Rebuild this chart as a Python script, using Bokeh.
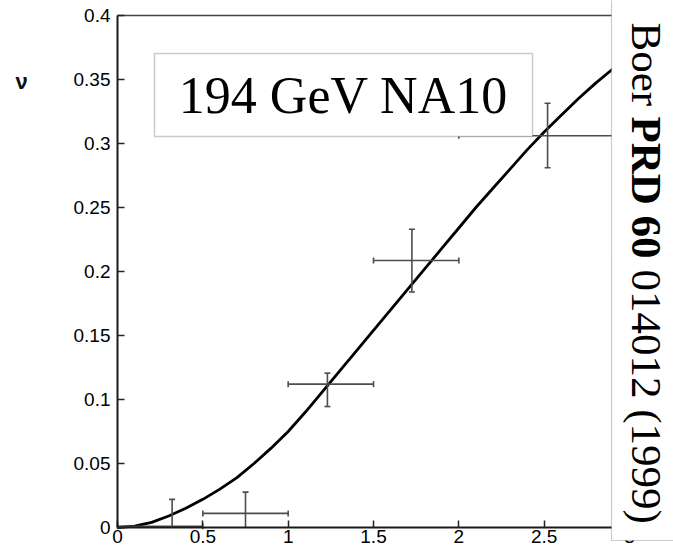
import math

from bokeh.plotting import figure
from bokeh.models import Label, BoxAnnotation, FixedTicker, ColumnDataSource
from bokeh.embed import file_html
from bokeh.resources import INLINE

# Model curve for the cos(2 phi) asymmetry nu versus q_T
curve_qt = [0.0, 0.1, 0.2, 0.3, 0.4, 0.5, 0.6, 0.7, 0.8, 0.9, 1.0,
            1.1, 1.2, 1.3, 1.4, 1.5, 1.6, 1.7, 1.8, 1.9, 2.0,
            2.1, 2.2, 2.3, 2.4, 2.5, 2.6, 2.7, 2.8, 2.9, 3.0]
curve_nu = [0.0, 0.001, 0.004, 0.009, 0.015, 0.022, 0.030, 0.039, 0.050, 0.062, 0.075,
            0.090, 0.106, 0.122, 0.138, 0.154, 0.170, 0.186, 0.202, 0.218, 0.234,
            0.250, 0.265, 0.280, 0.295, 0.309, 0.322, 0.335, 0.347, 0.358, 0.368]

# NA10 data points (194 GeV)
qt_mean = [0.32, 0.75, 1.23, 1.725, 2.52]
qt_bin_lo = [0.0, 0.5, 1.0, 1.5, 2.0]
qt_bin_hi = [0.5, 1.0, 1.5, 2.0, 3.0]
nu_data = [0.001, 0.011, 0.112, 0.2086, 0.306]
nu_err_up = [0.021, 0.0166, 0.0086, 0.0244, 0.0255]
nu_err_down = [0.021, 0.0166, 0.0175, 0.0246, 0.025]

x_ticks = [0, 0.5, 1, 1.5, 2, 2.5, 3]
x_tick_labels = ["0", "0.5", "1", "1.5", "2", "2.5", "3"]
y_ticks = [0, 0.05, 0.1, 0.15, 0.2, 0.25, 0.3, 0.35, 0.4]
y_tick_labels = ["0", "0.05", "0.1", "0.15", "0.2", "0.25", "0.3", "0.35", "0.4"]

X_MIN, X_MAX = 0.0, 3.0
Y_MIN, Y_MAX = 0.0, 0.4

W, H = 673, 548
# pixel box of the axes region inside the canvas
AX_L, AX_R, AX_T, AX_B = 117, 629, 15, 527


def dx(px):
    """canvas pixel column -> data x"""
    return X_MIN + (px - AX_L) / (AX_R - AX_L) * (X_MAX - X_MIN)


def dy(py):
    """canvas pixel row -> data y"""
    return Y_MIN + (AX_B - py) / (AX_B - AX_T) * (Y_MAX - Y_MIN)


# the frame spans the whole canvas; the axes are pinned at x=0 and y=0
p = figure(width=W, height=H, x_range=(dx(0), dx(W)), y_range=(dy(H), dy(0)),
           output_backend="svg", toolbar_location=None, min_border=0,
           min_border_left=0, min_border_right=0, min_border_top=0, min_border_bottom=0)
p.background_fill_color = "white"
p.border_fill_color = "white"
p.grid.visible = False
p.outline_line_color = None

xaxis, yaxis = p.xaxis[0], p.yaxis[0]
xaxis.fixed_location = Y_MIN
yaxis.fixed_location = X_MIN
xaxis.bounds = (X_MIN, X_MAX)
yaxis.bounds = (Y_MIN, Y_MAX)
for ax, ticks, labels in ((xaxis, x_ticks, x_tick_labels),
                          (yaxis, y_ticks, y_tick_labels)):
    ax.ticker = FixedTicker(ticks=ticks)
    ax.major_label_overrides = {t: l for t, l in zip(ticks, labels)}
    ax.axis_line_color = "#1a1a1a"
    ax.axis_line_width = 2
    ax.major_tick_line_color = "#222222"
    ax.major_tick_line_width = 1.5
    ax.major_tick_in = 7
    ax.major_tick_out = 0
    ax.minor_tick_line_color = None
    ax.major_label_text_font = "Liberation Sans"
    ax.major_label_text_font_size = "19px"
    ax.major_label_text_color = "black"
yaxis.major_label_standoff = 7
xaxis.major_label_standoff = 2

# top and right edges of the axes box
p.segment(x0=[X_MIN, X_MAX], y0=[Y_MAX, Y_MIN], x1=[X_MAX, X_MAX], y1=[Y_MAX, Y_MAX],
          line_color="#444444", line_width=1.6)

# model curve
p.line(curve_qt, curve_nu, line_color="black", line_width=2.8)

# error bars (cut at the lower axis)
y_low = [v - e for v, e in zip(nu_data, nu_err_down)]
y_high = [v + e for v, e in zip(nu_data, nu_err_up)]
err = ColumnDataSource(dict(
    x=qt_mean, y=nu_data, xlo=qt_bin_lo, xhi=qt_bin_hi,
    ylo=[max(v, Y_MIN) for v in y_low], yhi=y_high,
))
low_caps = ColumnDataSource(dict(
    x=[x for x, v in zip(qt_mean, y_low) if v >= Y_MIN],
    y=[v for v in y_low if v >= Y_MIN],
))
bar_color = "#4d4d4d"
p.segment(x0="xlo", y0="y", x1="xhi", y1="y", source=err, line_color=bar_color, line_width=1.6)
p.segment(x0="x", y0="ylo", x1="x", y1="yhi", source=err, line_color=bar_color, line_width=1.6)
p.scatter(x="x", y="yhi", source=err, marker="dash", size=6, line_color=bar_color, line_width=1.6)
p.scatter(x="x", y="y", source=low_caps, marker="dash", size=6, line_color=bar_color, line_width=1.6)
p.scatter(x="xlo", y="y", source=err, marker="dash", size=6, angle=math.pi / 2,
          line_color=bar_color, line_width=1.6)
p.scatter(x="xhi", y="y", source=err, marker="dash", size=6, angle=math.pi / 2,
          line_color=bar_color, line_width=1.6)

# experiment label box
p.add_layout(BoxAnnotation(left=dx(154), right=dx(532), top=dy(53), bottom=dy(136),
                           fill_color="white", fill_alpha=1.0,
                           line_color="#555555", line_width=1.5))
p.add_layout(Label(x=dx(343), y=dy(95), text="194 GeV NA10",
                   text_align="center", text_baseline="alphabetic",
                   text_font="Liberation Serif", text_font_size="52px",
                   text_color="black"))

# y quantity
p.add_layout(Label(x=dx(21), y=dy(81), text="ν", text_align="center",
                   text_baseline="alphabetic", text_font="Liberation Sans",
                   text_font_size="22px", text_font_style="bold", text_color="#111111"))

# reference box on the right edge
p.add_layout(BoxAnnotation(left=dx(611), right=dx(690), top=dy(-10), bottom=dy(540),
                           fill_color="white", fill_alpha=1.0,
                           line_color="#555555", line_width=1.2))
ref_parts = [("Boer ", "normal", 22),
             ("PRD 60", "bold", 116),
             ("014012 (1999)", "normal", 269)]
for txt, style, start in ref_parts:
    p.add_layout(Label(x=dx(645.5), y=dy(start), text=txt, angle=-math.pi / 2,
                       text_align="left", text_baseline="alphabetic",
                       text_font="Liberation Serif", text_font_size="43px",
                       text_font_style=style, text_color="black"))

open("out.html", "w").write(file_html(p, INLINE))
